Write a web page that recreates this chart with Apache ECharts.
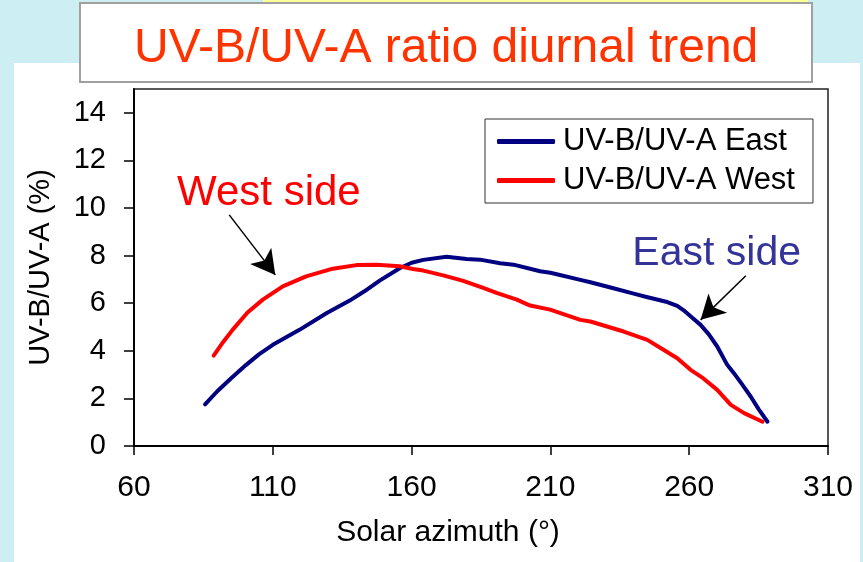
<!DOCTYPE html>
<html>
<head>
<meta charset="utf-8">
<script src="https://cdn.jsdelivr.net/npm/echarts@6/dist/echarts.min.js"></script>
<style>
  html, body { margin: 0; padding: 0; background: #cdeef2; }
  #chart { width: 863px; height: 562px; }
</style>
</head>
<body>
<div id="chart"></div>
<script>
// values
const azimuthEast = [85.6, 90, 95, 100.3, 105, 110, 119.6, 129.3, 137.7, 143, 148.5, 155.7, 160, 164.2, 172.6, 179.8, 184.6, 191.9, 196.7, 206.3, 210, 220.8, 224.4, 232, 240, 245, 252.1, 255.7, 258, 261, 264.1, 267, 270.1, 273.7, 276.1, 279, 282.2, 285, 288.2]
const ratioEast = [1.75, 2.3, 2.85, 3.4, 3.85, 4.25, 4.88, 5.58, 6.11, 6.5, 6.95, 7.47, 7.7, 7.82, 7.95, 7.86, 7.83, 7.68, 7.62, 7.34, 7.28, 6.98, 6.88, 6.65, 6.4, 6.25, 6.05, 5.89, 5.7, 5.4, 5.09, 4.7, 4.18, 3.41, 3.06, 2.6, 2.07, 1.55, 1.02]
const azimuthWest = [88.7, 92, 95.5, 100.9, 106.4, 113.6, 122, 131.6, 140.1, 147.3, 155.7, 160.5, 164.2, 171.4, 178.6, 185.8, 190.6, 197.9, 202.7, 209.9, 220.8, 224.4, 236.4, 244.9, 250, 255.7, 260.5, 265, 270.1, 275, 279.8, 286.4]
const ratioWest = [3.8, 4.35, 4.88, 5.61, 6.15, 6.71, 7.13, 7.45, 7.6, 7.62, 7.55, 7.44, 7.37, 7.17, 6.94, 6.64, 6.43, 6.15, 5.9, 5.73, 5.3, 5.23, 4.81, 4.46, 4.1, 3.69, 3.2, 2.85, 2.36, 1.73, 1.38, 1.02]
const xTicks = [60, 110, 160, 210, 260, 310]
const yTicks = [0, 2, 4, 6, 8, 10, 12, 14]

const font = 'Liberation Sans, Arial, sans-serif'
const myChart = echarts.init(document.getElementById('chart'))

const pairs = (xs, ys) => xs.map((x, i) => [x, ys[i]])

const option = {
  animation: false,
  backgroundColor: '#cdeef2',
  graphic: [
    // white panel behind the plot
    { type: 'rect', z: -10, shape: { x: 14, y: 63, width: 846, height: 499 }, style: { fill: '#ffffff' } },
    // pale yellow strip above the title
    { type: 'rect', z: -10, shape: { x: 263, y: 0, width: 545, height: 4 }, style: { fill: '#ffff99' } },
  ],
  title: {
    text: 'UV-B/UV-A ratio diurnal trend',
    left: 80,
    top: 3,
    padding: [21, 54, 8, 54],
    backgroundColor: '#ffffff',
    borderColor: '#a0a0a0',
    borderWidth: 2,
    textStyle: { fontFamily: font, fontSize: 48, fontWeight: 'normal', color: '#ff3300', lineHeight: 50 },
  },
  legend: {
    orient: 'vertical',
    left: 485,
    top: 119,
    padding: [7, 18, 7, 12],
    itemGap: 8,
    itemWidth: 58,
    itemHeight: 5,
    icon: 'roundRect',
    backgroundColor: '#ffffff',
    borderColor: '#333',
    borderWidth: 1,
    textStyle: { fontFamily: font, fontSize: 31, color: '#000', padding: [0, 0, 0, 3] },
    data: ['UV-B/UV-A East', 'UV-B/UV-A West'],
  },
  grid: {
    left: 134,
    right: 35,
    top: 89,
    bottom: 116,
    show: true,
    backgroundColor: '#ffffff',
    borderColor: '#222',
    borderWidth: 1.5,
  },
  xAxis: {
    type: 'value',
    min: 60,
    max: 310,
    interval: 50,
    name: 'Solar azimuth (°)',
    nameLocation: 'middle',
    nameGap: 72,
    nameTextStyle: { fontFamily: font, fontSize: 30, color: '#000', padding: [0, 66, 0, 0] },
    axisLine: { lineStyle: { color: '#000', width: 2 } },
    axisTick: { length: 9, lineStyle: { color: '#000', width: 1.5 }, customValues: xTicks },
    axisLabel: { fontFamily: font, fontSize: 30, color: '#000', margin: 27, customValues: xTicks },
    splitLine: { show: false },
  },
  yAxis: {
    type: 'value',
    min: 0,
    max: 15,
    interval: 2,
    name: 'UV-B/UV-A (%)',
    nameLocation: 'middle',
    nameGap: 79,
    nameTextStyle: { fontFamily: font, fontSize: 29, color: '#000' },
    axisLine: { show: true, lineStyle: { color: '#000', width: 2 } },
    axisTick: { show: true, length: 10, lineStyle: { color: '#000', width: 1.5 }, customValues: yTicks },
    axisLabel: { fontFamily: font, fontSize: 29, color: '#000', margin: 28, customValues: yTicks },
    splitLine: { show: false },
  },
  series: [
    {
      name: 'UV-B/UV-A East',
      type: 'line',
      data: pairs(azimuthEast, ratioEast),
      symbol: 'none',
      lineStyle: { color: '#000080', width: 4, cap: 'round', join: 'round' },
      itemStyle: { color: '#000080' },
      markLine: {
        silent: true,
        symbol: ['none', 'arrow'],
        symbolSize: [20, 24],
        label: { show: false },
        lineStyle: { color: '#000', width: 1.5, type: 'solid' },
        data: [[{ coord: [280.4, 7.15] }, { coord: [264.1, 5.3] }]],
      },
      markPoint: {
        silent: true,
        symbol: 'circle',
        symbolSize: 1,
        itemStyle: { color: 'rgba(0,0,0,0)' },
        label: { show: true, position: 'inside', formatter: '{b}', fontFamily: font, fontSize: 41, color: '#333399' },
        data: [{ name: 'East side', coord: [269.9, 8.1] }],
      },
    },
    {
      name: 'UV-B/UV-A West',
      type: 'line',
      data: pairs(azimuthWest, ratioWest),
      symbol: 'none',
      lineStyle: { color: '#ff0000', width: 4, cap: 'round', join: 'round' },
      itemStyle: { color: '#ff0000' },
      markLine: {
        silent: true,
        symbol: ['none', 'arrow'],
        symbolSize: [20, 24],
        label: { show: false },
        lineStyle: { color: '#000', width: 1.5, type: 'solid' },
        data: [[{ coord: [94.3, 9.71] }, { coord: [110.9, 7.19] }]],
      },
      markPoint: {
        silent: true,
        symbol: 'circle',
        symbolSize: 1,
        itemStyle: { color: 'rgba(0,0,0,0)' },
        label: { show: true, position: 'inside', formatter: '{b}', fontFamily: font, fontSize: 42, color: '#ff0000' },
        data: [{ name: 'West side', coord: [108.6, 10.62] }],
      },
    },
  ],
}

myChart.setOption(option)
</script>
</body>
</html>
